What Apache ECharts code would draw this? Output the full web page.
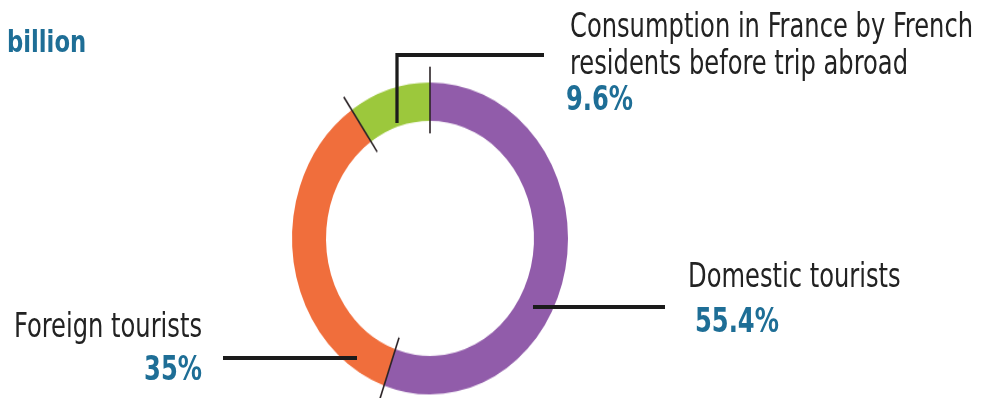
<!DOCTYPE html>
<html>
<head>
<meta charset="utf-8">
<script src="https://cdn.jsdelivr.net/npm/echarts@6/dist/echarts.min.js"></script>
<style>
  html, body { margin: 0; padding: 0; background: #fff; overflow: hidden; }
  #ring { position: absolute; left: 0; top: 0; width: 991px; height: 353px;
          transform: scaleY(1.13); transform-origin: 0 0; }
  #labels { position: absolute; left: 0; top: 0; height: 398px; transform-origin: 0 0; }
</style>
</head>
<body>
<div id="ring"></div>
<div id="labels"></div>
<script>
// Spending split, in percent
const categories = [
  'Domestic tourists',
  'Foreign tourists',
  'Consumption in France by French\nresidents before trip abroad'
];
const values = [55.4, 35, 9.6];
const unitLabel = 'billion';

const sliceColors = ['#915caa', '#f06e3c', '#9cc83c'];
const FONT = "'Liberation Sans Narrow', 'DejaVu Sans Condensed', 'Roboto Condensed', sans-serif";

// ---------- ring (drawn in a vertically stretched layer) ----------
const ringCenter = [430, 211];
const ringRadius = [104, 138];

// thin dark ticks across the ring at each slice boundary
const total = values.reduce((a, b) => a + b, 0);
const boundaryLines = [];
let acc = 0;
values.forEach(v => {
  const a = (90 - (acc / total) * 360) * Math.PI / 180;
  const r1 = 93, r2 = 152;
  boundaryLines.push({
    type: 'line',
    z: 10,
    shape: {
      x1: ringCenter[0] + r1 * Math.cos(a), y1: ringCenter[1] - r1 * Math.sin(a),
      x2: ringCenter[0] + r2 * Math.cos(a), y2: ringCenter[1] - r2 * Math.sin(a)
    },
    style: { stroke: '#2b2326', lineWidth: 1.6 }
  });
  acc += v;
});

const ringChart = echarts.init(document.getElementById('ring'), null, { renderer: 'canvas' });
ringChart.setOption({
  animation: false,
  backgroundColor: 'transparent',
  color: sliceColors,
  graphic: boundaryLines,
  series: [{
    type: 'pie',
    center: ringCenter,
    radius: ringRadius,
    startAngle: 90,
    clockwise: true,
    silent: true,
    padAngle: 0,
    itemStyle: { borderWidth: 0 },
    label: { show: false },
    labelLine: { show: false },
    data: categories.map((n, i) => ({ name: n, value: values[i] }))
  }]
});

// ---------- labels, leader lines and unit ----------
// The label layer is squeezed horizontally to get a narrow type face,
// so every x in it is given in page pixels and divided by SX.
const SX = 0.815;
const labelsEl = document.getElementById('labels');
labelsEl.style.width = (991 / SX) + 'px';
labelsEl.style.transform = `scaleX(${SX})`;
const px = x => x / SX;
const pt = ([x, y]) => [px(x), y];

const placement = [
  { x: 688, y: 257, align: 'left',  vlh: 53, vpad: 7,
    line: [[533, 307], [600, 307], [665, 307]] },
  { x: 202, y: 307, align: 'right', vlh: 49, vpad: 0,
    line: [[357, 358], [290, 358], [223, 358]] },
  { x: 566, y: 7,   align: 'left',  vlh: 35, vpad: 0, npad: 4,
    line: [[397, 123], [397, 55], [544, 55]] }
];

const labelChart = echarts.init(labelsEl, null, { renderer: 'svg' });
labelChart.setOption({
  animation: false,
  backgroundColor: 'transparent',
  title: {
    text: unitLabel,
    left: px(7),
    top: 25,
    padding: 0,
    textStyle: { fontFamily: FONT, fontSize: 31, fontWeight: 'bold', color: '#1e6e96', lineHeight: 33 }
  },
  series: [{
    type: 'pie',
    center: [px(430), 238],
    radius: [104, 138],
    startAngle: 90,
    clockwise: true,
    silent: true,
    avoidLabelOverlap: false,
    itemStyle: { color: 'rgba(0,0,0,0)', borderWidth: 0 },
    label: {
      show: true,
      position: 'outside',
      formatter: p => `{n|${p.name}}\n{v|${p.value}%}`
    },
    labelLine: {
      show: true,
      lineStyle: { color: '#1b1b1b', width: 4 }
    },
    labelLayout: p => {
      const L = placement[p.dataIndex];
      return { x: px(L.x), y: L.y, align: L.align, verticalAlign: 'top',
               labelLinePoints: L.line.map(pt) };
    },
    data: categories.map((n, i) => ({
      name: n,
      value: values[i],
      label: {
        rich: {
          n: { fontFamily: FONT, fontSize: 33, color: '#222', lineHeight: 37,
               padding: [0, 0, 0, px(placement[i].npad || 0)] },
          v: { fontFamily: FONT, fontSize: 33, fontWeight: 'bold', color: '#1e6e96',
               lineHeight: placement[i].vlh, padding: [0, 0, 0, px(placement[i].vpad)] }
        }
      }
    }))
  }]
});
</script>
</body>
</html>
